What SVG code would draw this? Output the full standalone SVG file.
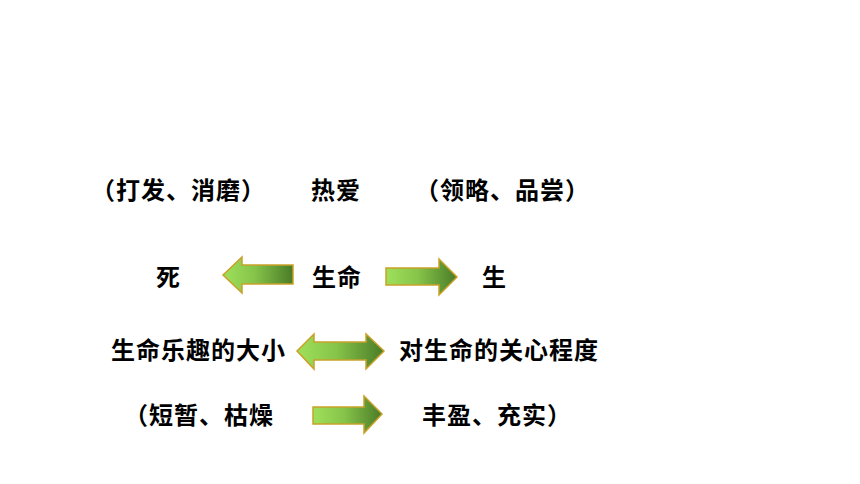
<svg xmlns="http://www.w3.org/2000/svg" width="860" height="484" viewBox="0 0 860 484">
<style>
text{font-family:"Noto Sans CJK SC","Noto Sans",sans-serif;font-weight:bold;font-size:24px;letter-spacing:1px;fill:#000}
.arr{fill:url(#g);stroke:#c9a128;stroke-width:1.5;stroke-linejoin:miter}
</style>
<defs>
<linearGradient id="g" x1="0" y1="0" x2="1" y2="0">
<stop offset="0" stop-color="#9fe05a"/>
<stop offset="0.45" stop-color="#86c44a"/>
<stop offset="1" stop-color="#4a7b27"/>
</linearGradient>
</defs>
<rect width="860" height="484" fill="#fff"/>
<g id="row1">
<text x="91" y="199">（打发、消磨）</text>
<text x="311" y="199">热爱</text>
<text x="415" y="199">（领略、品尝）</text>
</g>
<g id="row2">
<text x="156" y="286">死</text>
<text x="312" y="286">生命</text>
<text x="482" y="286">生</text>
</g>
<g id="row3">
<text x="111" y="359">生命乐趣的大小</text>
<text x="399" y="359">对生命的关心程度</text>
</g>
<g id="row4">
<text x="124" y="424">（短暂、枯燥</text>
<text x="422" y="424">丰盈、充实）</text>
</g>
<g id="connectors">
<path class="arr" d="M223,275 L242,257 L242,265 L293,265 L293,284 L242,284 L242,293 Z"/>
<path class="arr" d="M386,268 L439,268 L439,259 L457,277 L439,295 L439,285 L386,285 Z"/>
<path class="arr" d="M297,351 L314,334 L314,342 L366,342 L366,334 L384,351 L366,369 L366,360 L314,360 L314,369 Z"/>
<path class="arr" d="M313,407 L364,407 L364,396 L382,414 L364,433 L364,424 L313,424 Z"/>
</g>
</svg>
